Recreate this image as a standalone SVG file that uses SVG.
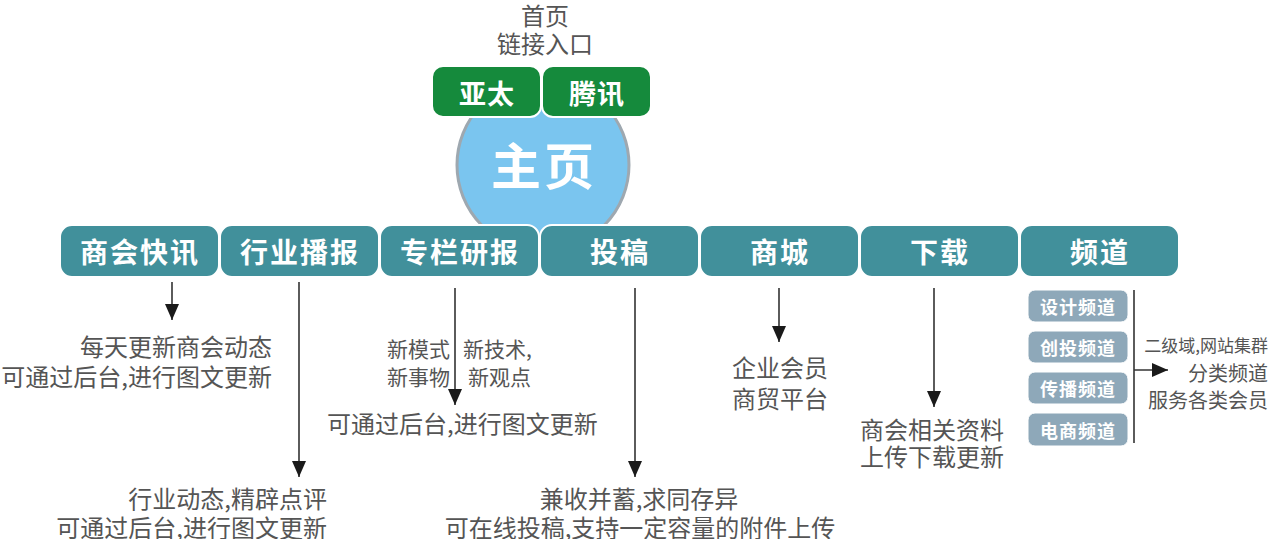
<svg xmlns="http://www.w3.org/2000/svg" width="1269" height="539" viewBox="0 0 1269 539">
<style>
text{font-family:"Noto Sans CJK SC","Noto Sans",sans-serif;dominant-baseline:central}
.desc{font-size:24px;fill:#555}
.small{font-size:21px;fill:#555}
.main{fill:#41909b;stroke:#fff;stroke-width:2}
.green{fill:#158a3c;stroke:#fff;stroke-width:2}
.sub{fill:#8ea8b9;stroke:#fff;stroke-width:1}
.mt{font-size:28px;fill:#fff;font-weight:bold;text-anchor:middle;letter-spacing:2px}
.gt{font-size:27px;fill:#fff;font-weight:bold;text-anchor:middle;letter-spacing:1px}
.st{font-size:18px;fill:#fff;font-weight:bold;text-anchor:middle;letter-spacing:1px}
.ln{stroke:#333;stroke-width:1.6;fill:none}
</style>
<defs>
<marker id="ah" markerUnits="userSpaceOnUse" markerWidth="16" markerHeight="14" viewBox="0 0 16 14" refX="16" refY="7" orient="auto">
<path d="M0,0 L16,7 L0,14 Z" fill="#1a1a1a"/>
</marker>
</defs>

<g id="header">
<text x="545" y="14" class="desc" text-anchor="middle">首页</text>
<text x="545" y="42" class="desc" text-anchor="middle">链接入口</text>
</g>

<g id="home">
<circle cx="543" cy="165" r="86" fill="#7ac5ef" stroke="#9ea8b0" stroke-width="3"/>
<text x="544" y="163" font-size="50" font-weight="bold" fill="#fff" text-anchor="middle" letter-spacing="3">主页</text>
</g>

<g id="yatai"><rect x="432" y="66" width="109" height="51" rx="11" class="green"/><text x="487" y="92" class="gt">亚太</text></g>
<g id="tengxun"><rect x="542" y="66" width="109" height="51" rx="11" class="green"/><text x="597" y="92" class="gt">腾讯</text></g>

<g id="n1"><rect x="60" y="225" width="159" height="52" rx="12" class="main"/><text x="140" y="251" class="mt">商会快讯</text></g>
<g id="n2"><rect x="220" y="225" width="159" height="52" rx="12" class="main"/><text x="300" y="251" class="mt">行业播报</text></g>
<g id="n3"><rect x="380" y="225" width="159" height="52" rx="12" class="main"/><text x="460" y="251" class="mt">专栏研报</text></g>
<g id="n4"><rect x="540" y="225" width="159" height="52" rx="12" class="main"/><text x="620" y="251" class="mt">投稿</text></g>
<g id="n5"><rect x="700" y="225" width="159" height="52" rx="12" class="main"/><text x="780" y="251" class="mt">商城</text></g>
<g id="n6"><rect x="860" y="225" width="159" height="52" rx="12" class="main"/><text x="940" y="251" class="mt">下载</text></g>
<g id="n7"><rect x="1020" y="225" width="159" height="52" rx="12" class="main"/><text x="1100" y="251" class="mt">频道</text></g>

<g id="s1"><rect x="1028" y="290" width="100" height="32" rx="7" class="sub"/><text x="1078" y="306" class="st">设计频道</text></g>
<g id="s2"><rect x="1028" y="331" width="100" height="32" rx="7" class="sub"/><text x="1078" y="347" class="st">创投频道</text></g>
<g id="s3"><rect x="1028" y="372" width="100" height="32" rx="7" class="sub"/><text x="1078" y="388" class="st">传播频道</text></g>
<g id="s4"><rect x="1028" y="413" width="100" height="33" rx="7" class="sub"/><text x="1078" y="430" class="st">电商频道</text></g>

<g id="connectors">
<line x1="172" y1="282" x2="172" y2="320" class="ln" marker-end="url(#ah)"/>
<line x1="299" y1="282" x2="299" y2="477" class="ln" marker-end="url(#ah)"/>
<line x1="455" y1="288" x2="455" y2="405" class="ln" marker-end="url(#ah)"/>
<line x1="635" y1="288" x2="635" y2="477" class="ln" marker-end="url(#ah)"/>
<line x1="779" y1="288" x2="779" y2="342" class="ln" marker-end="url(#ah)"/>
<line x1="934" y1="288" x2="934" y2="407" class="ln" marker-end="url(#ah)"/>
<line x1="1134" y1="290" x2="1134" y2="443" class="ln"/>
<line x1="1134" y1="370" x2="1168" y2="370" class="ln" marker-end="url(#ah)"/>
</g>

<g id="labels">
<text x="272" y="345" class="desc" text-anchor="end">每天更新商会动态</text>
<text x="272" y="375" class="desc" text-anchor="end">可通过后台,进行图文更新</text>
<text x="327" y="497" class="desc" text-anchor="end">行业动态,精辟点评</text>
<text x="327" y="526" class="desc" text-anchor="end">可通过后台,进行图文更新</text>
<text x="450" y="348" class="small" text-anchor="end">新模式</text>
<text x="463" y="348" class="small">新技术,</text>
<text x="450" y="376" class="small" text-anchor="end">新事物</text>
<text x="468" y="376" class="small">新观点</text>
<text x="327" y="422" class="desc">可通过后台,进行图文更新</text>
<text x="639" y="497" class="desc" text-anchor="middle">兼收并蓄,求同存异</text>
<text x="640" y="526" class="desc" text-anchor="middle">可在线投稿,支持一定容量的附件上传</text>
<text x="780" y="366" class="desc" text-anchor="middle">企业会员</text>
<text x="780" y="397" class="desc" text-anchor="middle">商贸平台</text>
<text x="932" y="428" class="desc" text-anchor="middle">商会相关资料</text>
<text x="932" y="455" class="desc" text-anchor="middle">上传下载更新</text>
<text x="1268" y="344" font-size="17" fill="#555" text-anchor="end">二级域,网站集群</text>
<text x="1268" y="372" font-size="20" fill="#555" text-anchor="end">分类频道</text>
<text x="1268" y="399" font-size="20" fill="#555" text-anchor="end">服务各类会员</text>
</g>
</svg>
